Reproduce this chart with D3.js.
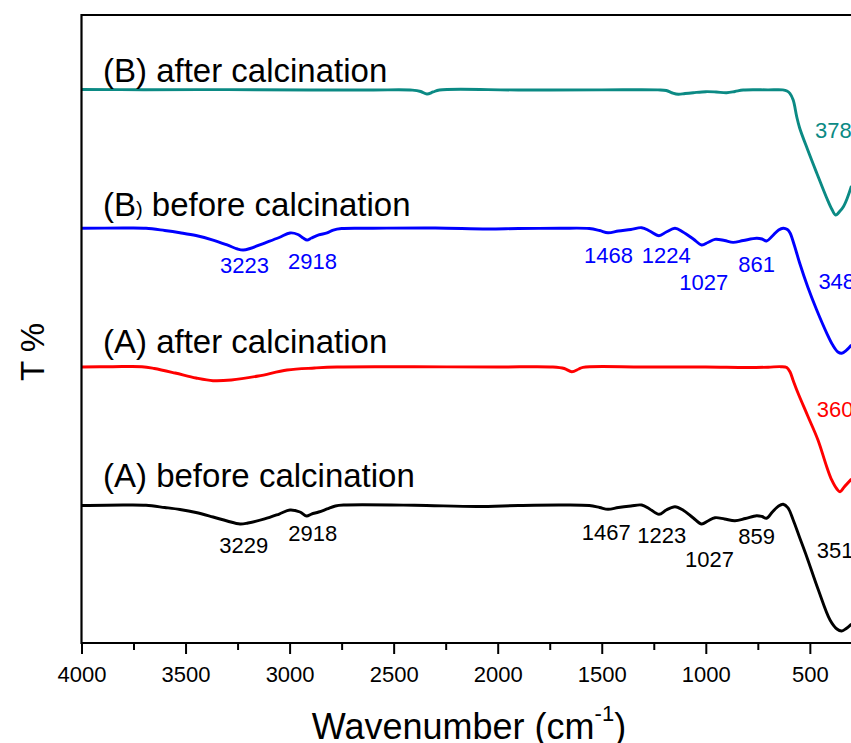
<!DOCTYPE html>
<html>
<head>
<meta charset="utf-8">
<script src="https://cdn.jsdelivr.net/npm/d3@7"></script>
<style>
  html, body { margin: 0; padding: 0; background: #fff; }
  svg { display: block; font-family: "Liberation Sans", Arial, sans-serif; }
</style>
</head>
<body>
<svg id="chart" width="851" height="743"></svg>
<script>
// ---------- data (wavenumber in cm-1, transmittance in arbitrary offset T %) ----------
const xTicks = [4000, 3500, 3000, 2500, 2000, 1500, 1000, 500];
const xMinorTicks = [3750, 3250, 2750, 2250, 1750, 1250, 750];

const wnBAfter = [4000,3700,3300,2900,2600,2410,2370,2340,2310,2280,1900,1500,1230,1190,1160,1132,1100,1060,1000,950,900,860,820,700,630,610,596,580,563,549,510,467,419,395,376,355,339,320,300];
const tBAfter  = [88.14,88.10,88.12,88.06,88.06,88.04,87.82,87.42,87.74,88.06,88.06,88.08,88.08,87.98,87.58,87.37,87.50,87.63,87.79,87.74,87.63,87.82,88.06,88.08,88.08,87.90,87.53,86.46,83.80,82.01,78.50,74.84,70.86,69.11,68.15,68.79,69.47,70.86,72.77];

const wnBBefore = [4000,3800,3690,3600,3527,3450,3368,3300,3250,3223,3190,3120,3050,2998,2960,2935,2916,2895,2860,2820,2790,2750,2600,2300,2050,1900,1700,1560,1510,1470,1420,1360,1308,1270,1225,1190,1148,1110,1060,1020,990,956,910,869,820,756,730,708,680,650,628,608,595,575,549,510,467,419,390,365,347,325,300];
const tBBefore  = [66.04,66.08,66.04,65.68,65.33,64.89,64.17,63.38,62.74,62.58,62.82,63.69,64.57,65.29,65.05,64.49,64.17,64.49,64.97,65.29,65.76,66.00,66.04,66.08,65.92,66.00,66.04,66.00,65.68,65.33,65.61,65.84,66.13,65.61,64.86,65.45,66.04,65.45,64.33,63.38,63.77,64.28,64.09,63.80,64.09,64.44,64.33,64.01,64.81,65.76,66.04,65.84,65.29,63.38,60.51,56.69,53.03,49.36,47.45,46.34,46.13,46.58,47.45];

const wnAAfter = [4000,3850,3710,3650,3550,3450,3368,3280,3150,3012,2880,2772,2400,2000,1735,1680,1644,1610,1590,1300,1000,800,700,640,611,595,581,557,510,461,419,395,370,355,335,300];
const tAAfter  = [43.95,44.00,44.00,43.71,42.99,42.20,41.77,41.88,42.52,43.47,43.79,43.95,43.98,43.95,43.95,43.71,43.20,43.63,43.90,43.95,43.95,43.87,43.92,44.00,43.87,43.15,41.88,39.81,36.15,32.32,28.07,25.96,24.52,24.09,24.84,26.11];

const wnABefore = [4000,3800,3690,3600,3527,3450,3368,3300,3238,3200,3120,3050,2998,2950,2918,2895,2860,2820,2780,2740,2400,2100,1900,1700,1560,1510,1470,1420,1360,1308,1270,1225,1190,1148,1110,1060,1020,990,956,910,860,810,756,730,708,680,650,628,605,580,550,515,459,403,370,347,325,300];
const tABefore  = [21.89,21.97,21.93,21.58,21.26,20.78,20.06,19.43,18.95,19.11,19.75,20.54,21.18,20.86,20.22,20.54,20.86,21.34,21.82,21.97,21.94,21.74,21.89,21.97,21.89,21.58,21.29,21.58,21.82,21.97,21.34,20.49,21.18,21.70,21.18,19.90,18.95,19.43,19.95,19.75,19.47,19.82,20.27,20.14,19.86,20.86,21.82,22.09,21.50,19.59,16.88,13.74,8.44,3.66,2.23,1.91,2.31,3.03];

const seriesNames  = ["(B) after calcination", "(B) before calcination", "(A) after calcination", "(A) before calcination"];
const seriesColors = ["#0b8a84", "#0000ff", "#ff0000", "#000000"];

// peak annotations: [label, wavenumber at label's left edge, T at label baseline]
const peaksBAfter  = [["378", 475, 80.41]];
const peaksBBefore = [["3223", 3334, 58.87], ["2918", 3008, 59.55], ["1468", 1585, 60.51], ["1224", 1308, 60.51], ["1027", 1127, 56.21], ["861", 844, 59.03], ["348", 459, 56.32]];
const peaksAAfter  = [["360", 467, 36.04]];
const peaksABefore = [["3229", 3338, 14.28], ["2918", 3006, 16.29], ["1467", 1596, 16.40], ["1223", 1329, 15.88], ["1027", 1100, 12.05], ["859", 844, 15.76], ["351", 467, 13.49]];

// ---------- layout ----------
const svg = d3.select("#chart");
const W = 851, H = 743;
const pLeft = 81.5, pTop = 15, pBottom = 643;
const x = d3.scaleLinear().domain([4000, 300]).range([pLeft, pLeft + 3700 * 0.2081]);
const y = d3.scaleLinear().domain([0, 100]).range([pBottom, pBottom - 628]);

svg.append("defs").append("clipPath").attr("id", "clip")
  .append("rect").attr("x", pLeft).attr("y", pTop).attr("width", W - pLeft).attr("height", pBottom - pTop);

const line = d3.line().x(d => x(d[0])).y(d => y(d[1])).curve(d3.curveCatmullRom.alpha(0.5));

const allSeries = [
  { wn: wnBAfter, t: tBAfter, peaks: peaksBAfter },
  { wn: wnBBefore, t: tBBefore, peaks: peaksBBefore },
  { wn: wnAAfter, t: tAAfter, peaks: peaksAAfter },
  { wn: wnABefore, t: tABefore, peaks: peaksABefore }
];

const g = svg.append("g").attr("clip-path", "url(#clip)");
allSeries.forEach((s, i) => {
  const pts = s.wn.map((w, j) => [w, s.t[j]]);
  g.append("path").datum(pts)
    .attr("fill", "none")
    .attr("stroke", seriesColors[i])
    .attr("stroke-width", 2.9)
    .attr("stroke-linejoin", "round")
    .attr("d", line);
});

// peak labels
allSeries.forEach((s, i) => {
  svg.selectAll(null).data(s.peaks).enter().append("text")
    .attr("x", d => x(d[1]))
    .attr("y", d => y(d[2]))
    .attr("font-size", 22)
    .attr("fill", seriesColors[i])
    .text(d => d[0]);
});

// series labels
const labelT = [89.3, 68.0, 46.2, 24.8];
seriesNames.forEach((name, i) => {
  const t = svg.append("text")
    .attr("x", 103)
    .attr("y", y(labelT[i]))
    .attr("font-size", 33)
    .attr("fill", "#000");
  if (i === 1) {
    t.append("tspan").text("(B");
    t.append("tspan").attr("font-size", 20).text(")");
    t.append("tspan").text(name.slice(3));
  } else {
    t.text(name);
  }
});

// ---------- axes ----------
const xAxis = d3.axisBottom(x).tickValues(xTicks).tickSize(11).tickPadding(12).tickFormat(d3.format("d"));
const ax = svg.append("g").attr("transform", `translate(0,${pBottom})`).call(xAxis);
ax.select(".domain").remove();
ax.selectAll(".tick line").attr("stroke", "#000").attr("stroke-width", 2);
ax.selectAll(".tick text").attr("font-size", 22).attr("fill", "#000")
  .attr("font-family", "'Liberation Sans', Arial, sans-serif");

const xMinor = d3.axisBottom(x).tickValues(xMinorTicks).tickSize(7).tickFormat("");
const axm = svg.append("g").attr("transform", `translate(0,${pBottom})`).call(xMinor);
axm.select(".domain").remove();
axm.selectAll(".tick line").attr("stroke", "#000").attr("stroke-width", 2);

// frame lines
svg.append("line").attr("x1", pLeft).attr("x2", W).attr("y1", pBottom).attr("y2", pBottom)
  .attr("stroke", "#000").attr("stroke-width", 2.2);
svg.append("line").attr("x1", pLeft).attr("x2", W).attr("y1", pTop).attr("y2", pTop)
  .attr("stroke", "#000").attr("stroke-width", 2.2);
svg.append("line").attr("x1", pLeft).attr("x2", pLeft).attr("y1", pTop - 1).attr("y2", pBottom + 1)
  .attr("stroke", "#000").attr("stroke-width", 2.2);

// axis titles
const xt = svg.append("text")
  .attr("x", 469).attr("y", 739)
  .attr("text-anchor", "middle")
  .attr("font-size", 36)
  .attr("fill", "#000");
xt.append("tspan").text("Wavenumber (cm");
xt.append("tspan").attr("font-size", 22).attr("dy", -18).text("-1");
xt.append("tspan").attr("dy", 18).text(")");

svg.append("text")
  .attr("transform", "translate(44,352) rotate(-90)")
  .attr("text-anchor", "middle")
  .attr("font-size", 33)
  .attr("fill", "#000")
  .text("T %");
</script>
</body>
</html>
